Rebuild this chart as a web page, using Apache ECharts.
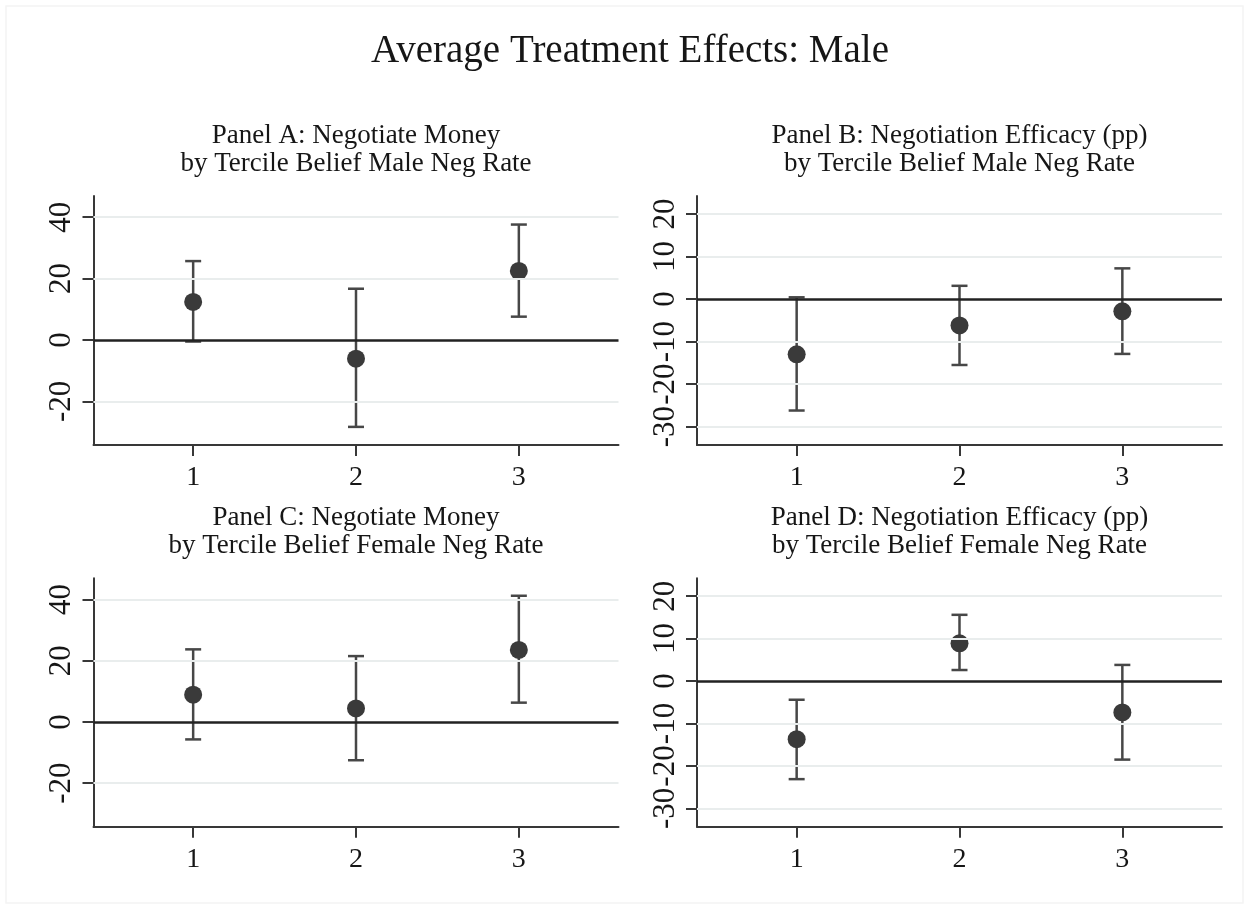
<!DOCTYPE html>
<html>
<head>
<meta charset="utf-8">
<title>Average Treatment Effects: Male</title>
<script src="https://cdn.jsdelivr.net/npm/echarts@6/dist/echarts.min.js"></script>
<style>
  html, body { margin: 0; padding: 0; background: #ffffff; }
  #chart { width: 1249px; height: 909px; }
</style>
</head>
<body>
<div id="chart"></div>
<script>
// Tercile groups on the horizontal axis
const terciles = [1, 2, 3];

// Panel A: Negotiate Money, by tercile of belief about male negotiation rate
const panelAEst = [12.4, -6.1, 22.5];
const panelALow = [-0.5, -28.3, 7.6];
const panelAHigh = [25.7, 16.7, 37.6];

// Panel B: Negotiation Efficacy (pp), by tercile of belief about male negotiation rate
const panelBEst = [-13.0, -6.2, -2.9];
const panelBLow = [-26.2, -15.5, -12.9];
const panelBHigh = [0.4, 3.1, 7.2];

// Panel C: Negotiate Money, by tercile of belief about female negotiation rate
const panelCEst = [8.9, 4.4, 23.5];
const panelCLow = [-5.7, -12.5, 6.3];
const panelCHigh = [23.7, 21.5, 41.2];

// Panel D: Negotiation Efficacy (pp), by tercile of belief about female negotiation rate
const panelDEst = [-13.7, 8.9, -7.4];
const panelDLow = [-23.1, 2.6, -18.5];
const panelDHigh = [-4.4, 15.6, 3.8];

// Tick values
const xTicks = [1, 2, 3];
const moneyTicks = [-20, 0, 20, 40];
const efficacyTicks = [-30, -20, -10, 0, 10, 20];

const chartTitle = 'Average Treatment Effects: Male';
const panelTitles = [
  'Panel A: Negotiate Money\nby Tercile Belief Male Neg Rate',
  'Panel B: Negotiation Efficacy (pp)\nby Tercile Belief Male Neg Rate',
  'Panel C: Negotiate Money\nby Tercile Belief Female Neg Rate',
  'Panel D: Negotiation Efficacy (pp)\nby Tercile Belief Female Neg Rate'
];

const SERIF = '"Liberation Serif", "Times New Roman", Times, serif';
const INK = '#161616';
const AXIS = '#383838';
const GRIDLINE = '#e9eded';

const panels = [
  { est: panelAEst, low: panelALow, high: panelAHigh, ticks: moneyTicks, min: -34.2, max: 46.9,
    left: 93.5, top: 196, width: 525, height: 249 },
  { est: panelBEst, low: panelBLow, high: panelBHigh, ticks: efficacyTicks, min: -34.3, max: 24.2,
    left: 697, top: 196, width: 525, height: 249 },
  { est: panelCEst, low: panelCLow, high: panelCHigh, ticks: moneyTicks, min: -34.2, max: 46.9,
    left: 93.5, top: 578.3, width: 525, height: 248.4 },
  { est: panelDEst, low: panelDLow, high: panelDHigh, ticks: efficacyTicks, min: -34.3, max: 24.2,
    left: 697, top: 578.3, width: 525, height: 248.4 }
];

const grids = [], xAxes = [], yAxes = [], series = [], graphics = [];

graphics.push({
  type: 'rect', silent: true, z: -10,
  shape: { x: 6, y: 6, width: 1237, height: 897 },
  style: { fill: '#ffffff', stroke: '#f4f4f4', lineWidth: 1.5 }
});
graphics.push({
  type: 'text', silent: true,
  style: { text: chartTitle, x: 630, y: 52, align: 'center', verticalAlign: 'middle',
           font: '39px ' + SERIF, fill: INK }
});

panels.forEach((p, i) => {
  grids.push({ left: p.left, top: p.top, width: p.width, height: p.height, containLabel: false });

  graphics.push({
    type: 'text', silent: true,
    style: { text: panelTitles[i], x: p.left + p.width / 2, y: p.top - 46,
             align: 'center', verticalAlign: 'middle',
             font: '27px ' + SERIF, lineHeight: 28, fill: INK }
  });

  xAxes.push({
    type: 'value', gridIndex: i, min: 0.388, max: 3.612,
    axisLine: { show: true, onZero: false, lineStyle: { color: AXIS, width: 2 } },
    axisTick: { show: true, length: 11, lineStyle: { color: AXIS, width: 2 }, customValues: xTicks },
    axisLabel: { show: true, customValues: xTicks, margin: 19, color: INK,
                 fontFamily: SERIF, fontSize: 28 },
    splitLine: { show: false }
  });

  yAxes.push({
    type: 'value', gridIndex: i, min: p.min, max: p.max,
    axisLine: { show: true, onZero: false, lineStyle: { color: AXIS, width: 2 } },
    axisTick: { show: true, length: 11, lineStyle: { color: AXIS, width: 2 }, customValues: p.ticks },
    axisLabel: { show: true, customValues: p.ticks, rotate: 90, margin: 16, color: INK,
                 fontFamily: SERIF, fontSize: 31 },
    splitLine: { show: false }
  });

  // Light horizontal gridlines at each tick, and the reference line at zero
  series.push({
    type: 'line', xAxisIndex: i, yAxisIndex: i, data: [], silent: true, z: 1,
    markLine: {
      silent: true, symbol: 'none', label: { show: false }, animation: false,
      lineStyle: { color: GRIDLINE, width: 2, type: 'solid' },
      data: p.ticks.filter(v => v !== 0).map(v => ({ yAxis: v }))
    }
  });
  series.push({
    type: 'line', xAxisIndex: i, yAxisIndex: i, data: [], silent: true, z: 2,
    markLine: {
      silent: true, symbol: 'none', label: { show: false }, animation: false,
      lineStyle: { color: '#222222', width: 2.5, type: 'solid' },
      data: [{ yAxis: 0 }]
    }
  });

  // Confidence intervals with end caps
  series.push({
    type: 'custom', xAxisIndex: i, yAxisIndex: i, z: 3, silent: true,
    data: terciles.map((t, k) => [t, p.low[k], p.high[k]]),
    renderItem: function (params, api) {
      const lo = api.coord([api.value(0), api.value(1)]);
      const hi = api.coord([api.value(0), api.value(2)]);
      const cap = 8;
      const st = { stroke: '#474747', lineWidth: 2.5, fill: null };
      return {
        type: 'group',
        children: [
          { type: 'line', shape: { x1: lo[0], y1: lo[1], x2: hi[0], y2: hi[1] }, style: st },
          { type: 'line', shape: { x1: lo[0] - cap, y1: lo[1], x2: lo[0] + cap, y2: lo[1] }, style: st },
          { type: 'line', shape: { x1: hi[0] - cap, y1: hi[1], x2: hi[0] + cap, y2: hi[1] }, style: st }
        ]
      };
    }
  });

  // Point estimates
  series.push({
    type: 'scatter', xAxisIndex: i, yAxisIndex: i, z: 4, silent: true,
    symbol: 'circle', symbolSize: 18,
    itemStyle: { color: '#3a3a3a', opacity: 1 },
    data: terciles.map((t, k) => [t, p.est[k]])
  });
});

const chart = echarts.init(document.getElementById('chart'), null, { renderer: 'canvas' });
chart.setOption({
  backgroundColor: '#ffffff',
  animation: false,
  grid: grids,
  xAxis: xAxes,
  yAxis: yAxes,
  series: series,
  graphic: graphics
});
</script>
</body>
</html>
